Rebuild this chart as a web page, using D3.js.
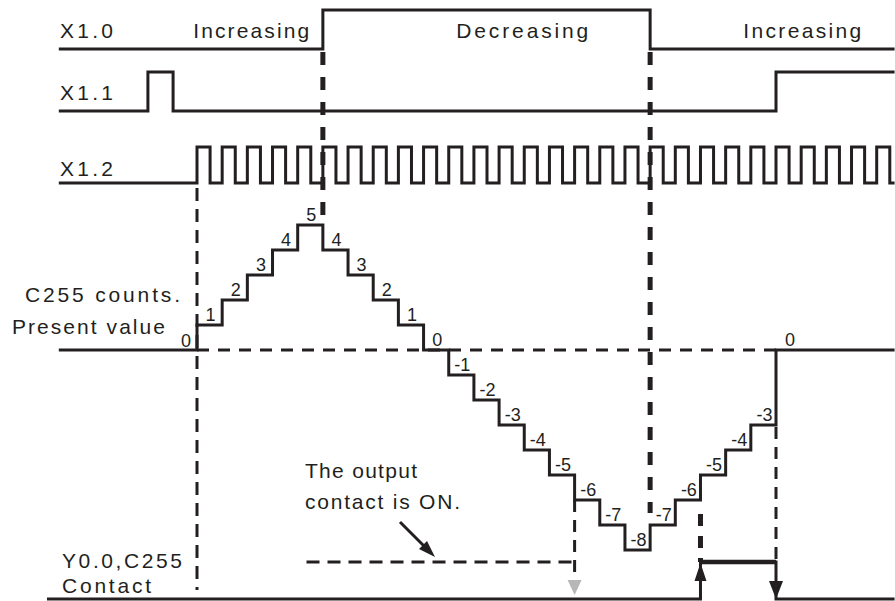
<!DOCTYPE html>
<html><head><meta charset="utf-8">
<script src="https://cdn.jsdelivr.net/npm/d3@7"></script>
<style>html,body{margin:0;padding:0;background:#fff;} svg{display:block;}</style>
</head><body><svg id="c" width="895" height="601"></svg>
<script>
// ---------------- data (time in X1.2 pulse periods) ----------------
const signalNames = ["X1.0", "X1.1", "X1.2"];
const phaseLabels = ["Increasing", "Decreasing", "Increasing"];
const phaseLabelTimes = [-0.15, 10.3, 21.7];          // where each phase label starts
const x10Edges = [5, 18];                              // X1.0 rises, then falls
const x11Edges = [-1.95, -0.95, 23];                   // X1.1 pulse, then rise (reset)
const x12Rises = [0,1,2,3,4,5,6,7,8,9,10,11,12,13,14,15,16,17,18,19,20,21,22,23,24,25,26,27];
const x12HighWidth = 0.52;
const countTimes  = [0,1,2,3,4,5,6,7,8,9,10,11,12,13,14,15,16,17,18,19,20,21,22,23];
const countValues = [1,2,3,4,5,4,3,2,1,0,-1,-2,-3,-4,-5,-6,-7,-8,-7,-6,-5,-4,-3,0];
const contactEdges = [20, 23];                         // Y0.0 ON at -6 going up, OFF at reset
const timeStart = -5.43, timeEnd = 27.65, contactStart = -5.9;
const noteLines = ["The output", "contact is ON."];
const rowLabels = ["C255 counts.", "Present value", "Y0.0,C255", "Contact"];

// ---------------- scales / layout ----------------
const svg = d3.select("#c");
const ink = "#231f20";
const x = d3.scaleLinear().domain([0, 23]).range([197, 776]);
const yc = d3.scaleLinear().domain([0, -8]).range([350, 550]);
const rows = { x10: [49, 10], x11: [111, 72], x12: [183, 147], y00: [599, 562] };
const font = "'Liberation Sans', Arial, sans-serif";
const fs = 21, fsDigit = 18;

const step = d3.line().x(d => x(d.t)).y(d => d.y).curve(d3.curveStepAfter);

function edgesToPoints(edges, low, high, t0, t1, startHigh) {
  const pts = [{t: t0, y: startHigh ? high : low}];
  let state = !!startHigh;
  edges.forEach(e => { state = !state; pts.push({t: e, y: state ? high : low}); });
  pts.push({t: t1, y: state ? high : low});
  return pts;
}

function path(pts, w) {
  svg.append("path").attr("d", step(pts)).attr("fill", "none")
    .attr("stroke", ink).attr("stroke-width", w).attr("stroke-linejoin", "miter").attr("stroke-linecap", "square");
}

function dashV(t, y1, y2, w, dash) {
  svg.append("line").attr("x1", x(t)).attr("x2", x(t)).attr("y1", y1).attr("y2", y2)
    .attr("stroke", ink).attr("stroke-width", w).attr("stroke-dasharray", dash);
}
function dashH(t1, t2, y, w, dash) {
  svg.append("line").attr("x1", x(t1)).attr("x2", x(t2)).attr("y1", y).attr("y2", y)
    .attr("stroke", ink).attr("stroke-width", w).attr("stroke-dasharray", dash);
}
function text(s, px, py, size, len, anchor) {
  const t = svg.append("text").attr("x", px).attr("y", py).text(s)
    .attr("font-family", font).attr("font-size", size).attr("fill", ink)
    .attr("text-anchor", anchor || "start");
  if (len) t.attr("textLength", len).attr("lengthAdjust", "spacing");
  return t;
}

// ---------------- input signals ----------------
path(edgesToPoints(x10Edges, rows.x10[0], rows.x10[1], timeStart, timeEnd), 3);
path(edgesToPoints(x11Edges, rows.x11[0], rows.x11[1], timeStart, timeEnd), 3);
const x12Edges = [];
x12Rises.forEach(r => { x12Edges.push(r, r + x12HighWidth); });
path(edgesToPoints(x12Edges, rows.x12[0], rows.x12[1], timeStart, timeEnd), 3);

// signal names
const nameY = [38, 100, 176];
signalNames.forEach((n, i) => text(n, 60, nameY[i], fs, 53));
// phase labels
const phaseW = [116, 132, 118];
phaseLabels.forEach((p, i) => text(p, x(phaseLabelTimes[i]), 38, fs, phaseW[i]));

// ---------------- reference dashed lines ----------------
dashH(0, 23, yc(0), 3, "12,9");                       // zero level
dashV(0, 188, 590, 3, "13,8");                        // start of counting
dashV(x10Edges[0], 52, yc(5) - 2, 5, "13,12");         // direction change
dashV(x10Edges[1], 52, yc(-7) - 12, 5, "13,12");       // direction change back
dashV(15, yc(-6), 572, 3, "12,8");                    // reaching -6 while counting down
dashV(contactEdges[0], yc(-6) + 14, rows.y00[1], 5, "12,10");
dashV(contactEdges[1], yc(-3) + 2, rows.y00[1], 3, "12,8");
dashH(4.35, 15, 562, 3, "13,8");                      // "output contact is ON" level

// ---------------- counter present value ----------------
const cPts = [{t: timeStart, y: yc(0)}];
countTimes.forEach((t, i) => cPts.push({t: t, y: yc(countValues[i])}));
cPts.push({t: timeEnd, y: yc(0)});
path(cPts, 3);

// value labels on each step
text("0", x(0) - 6, yc(0) - 3, fsDigit, null, "end");
countValues.forEach((v, i) => {
  const t0 = countTimes[i];
  const t1 = i + 1 < countTimes.length ? countTimes[i + 1] : null;
  const lbl = String(v);
  if (t1 === null) {
    text(lbl, x(t0) + 9, yc(v) - 4, fsDigit, null, "start");
  } else {
    text(lbl, (x(t0) + x(t1)) / 2 + 1, yc(v) - 4, fsDigit, null, "middle");
  }
});

// row labels
text(rowLabels[0], 25, 302, fs, 155);
text(rowLabels[1], 12, 334, fs, 153);
text(rowLabels[2], 62, 568, fs, 120);
text(rowLabels[3], 62, 593, fs, 89);

// ---------------- output contact Y0.0 ----------------
path(edgesToPoints(contactEdges, rows.y00[0], rows.y00[1], contactStart, timeEnd), 3);
svg.append("line").attr("x1", x(contactEdges[0])).attr("x2", x(contactEdges[1]))
  .attr("y1", rows.y00[1]).attr("y2", rows.y00[1]).attr("stroke", ink).attr("stroke-width", 4.5);
// up arrow head on rising edge
const ux = x(contactEdges[0]);
svg.append("polygon").attr("points", [[ux, rows.y00[1] + 1], [ux - 6, rows.y00[1] + 19], [ux + 6, rows.y00[1] + 19]].join(" ")).attr("fill", ink);
// down arrow head on falling edge
const dx = x(contactEdges[1]);
svg.append("polygon").attr("points", [[dx, rows.y00[0]], [dx - 7, rows.y00[0] - 18], [dx + 7, rows.y00[0] - 18]].join(" ")).attr("fill", ink);
// grey marker at -6
const gx = x(15);
svg.append("polygon").attr("points", [[gx, 595], [gx - 7, 580], [gx + 7, 580]].join(" ")).attr("fill", "#b7b7b7");

// ---------------- note ----------------
text(noteLines[0], 305, 478, fs, 112);
text(noteLines[1], 305, 509, fs, 155);
svg.append("line").attr("x1", 400).attr("y1", 522).attr("x2", 426).attr("y2", 548)
  .attr("stroke", ink).attr("stroke-width", 3);
svg.append("polygon").attr("points", [[435, 557], [419, 549], [427, 541]].join(" ")).attr("fill", ink);
</script></body></html>
